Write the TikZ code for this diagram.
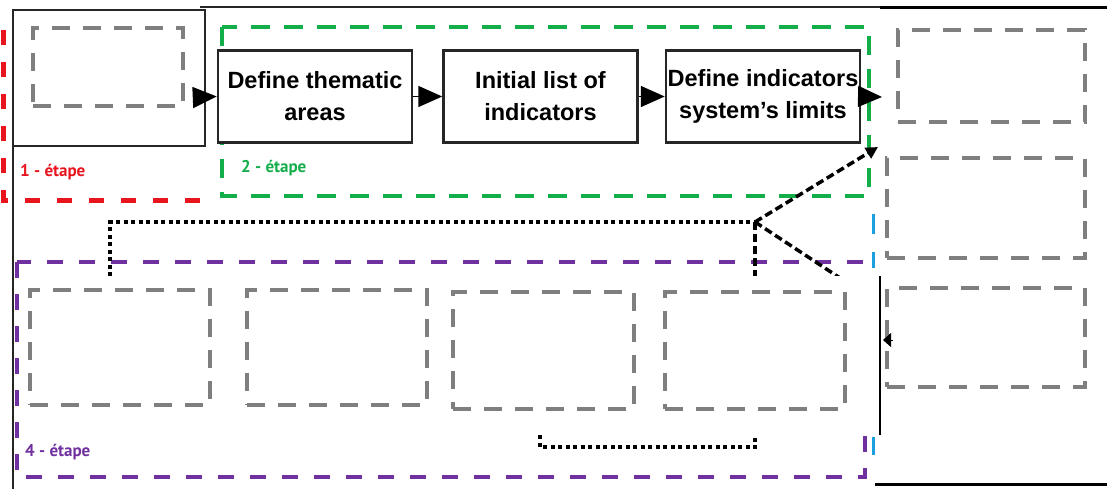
\documentclass[tikz,border=0pt]{standalone}
\usepackage{fontspec}
\setmainfont{Liberation Sans}
\newfontfamily\etapefont{PT Sans}
\usetikzlibrary{arrows.meta}
\definecolor{grayd}{HTML}{7F7F7F}
\definecolor{redd}{HTML}{E8141E}
\definecolor{greend}{HTML}{12AE4A}
\definecolor{purpled}{HTML}{7030A0}
\definecolor{blued}{HTML}{1AA0E0}
\begin{document}
\begin{tikzpicture}[x=1pt,y=-1pt,
  gbox/.style={draw=grayd, line width=4pt, dash pattern=on 18pt off 13pt, line cap=butt},
  proc/.style={draw=black!85, line width=2.5pt, fill=white, minimum width=194pt, minimum height=92pt,
     align=center, inner sep=0pt, font=\fontsize{23.5}{32}\selectfont\bfseries},
  tri/.style={-{Triangle[length=24pt,width=21pt]}, line width=1.5pt},
  dotl/.style={line width=3.5pt, dash pattern=on 4pt off 3.5pt, black},
  dashl/.style={line width=3.5pt, dash pattern=on 8pt off 4pt, black},
  lab/.style={font=\etapefont\fontsize{17}{17}\selectfont\bfseries, anchor=west, inner sep=0pt}]
\useasboundingbox (0,0) rectangle (1107,489);
\fill[white] (0,0) rectangle (1107,489);

% step 1 (red) frame and hidden box
\draw[redd, line width=5pt, dash pattern=on 15pt off 17pt] (3,30) -- (3,200) -- (210,200);
\draw[black!85, line width=2.5pt] (13,489) -- (13,10) -- (205,10) -- (205,146) -- (13,146);
\node[gbox, minimum width=150pt, minimum height=78pt, inner sep=0pt] (g1) at (108,67) {};
\node[lab, text=redd] (l1) at (20,172) {1 - étape};

% white panel of step 2
\fill[white] (207,12) rectangle (880,205);
\draw[black!85, line width=2pt] (200,7) -- (880,7);
\draw[black, line width=3pt] (880,8) -- (1107,8);

% step 2 (green)
\draw[greend, line width=4pt, dash pattern=on 19pt off 14pt] (222,27) rectangle (869,196);
\node[proc] (p1) at (315,96.5) {Define thematic\\areas};
\node[proc] (p2) at (540.5,96.5) {Initial list of\\indicators};
\node[proc] (p3) at (763,96.5) {Define indicators\\system’s limits};
\node[lab, text=greend] (l2) at (241,168) {2 - étape};
\coordinate (a0) at (205,97);
\coordinate (a4) at (882,97);
\draw[tri] (a0) -- (p1.west);
\draw[tri] (p1.east) -- (p2.west);
\draw[tri] (p2.east) -- (p3.west);
\draw[tri] (p3.east) -- (a4);

% right column
\node[gbox, minimum width=187pt, minimum height=92pt, inner sep=0pt] (r1) at (991.5,76) {};
\node[gbox, minimum width=198pt, minimum height=100pt, inner sep=0pt] (r2) at (986,208) {};
\node[gbox, minimum width=198pt, minimum height=99pt, inner sep=0pt] (r3) at (986,337.5) {};

% step 4 (purple)
\draw[purpled, line width=4pt, dash pattern=on 16pt off 16pt] (17,262) rectangle (865,477);

% dotted connectors
\coordinate (d0) at (755,222);
\coordinate (d1) at (110,222);
\coordinate (d2) at (110,276);
\coordinate (d3) at (755,276);
\coordinate (d4) at (878,147);
\coordinate (d5) at (840,278);
\draw[dotl] (d2) -- (d1) -- (d0);
\draw[dashl] (d0) -- (d3);
\draw[dashl, -{Triangle[length=12pt,width=12pt]}] (d0) -- (d4);
\draw[dashl] (d0) -- (d5);

% white panel of step 4 boxes
\fill[white] (19,276) rectangle (880,433);
\draw[black, line width=2pt] (880,276) -- (880,435);
\node[gbox, minimum width=180pt, minimum height=115pt, inner sep=0pt] (b1) at (120,347.5) {};
\node[gbox, minimum width=180pt, minimum height=115pt, inner sep=0pt] (b2) at (337,347.5) {};
\node[gbox, minimum width=181pt, minimum height=117pt, inner sep=0pt] (b3) at (543.5,350.5) {};
\node[gbox, minimum width=180pt, minimum height=117pt, inner sep=0pt] (b4) at (755,350.5) {};
\coordinate (e1) at (540,435);
\coordinate (e2) at (540,447);
\coordinate (e3) at (755,447);
\coordinate (e4) at (755,435);
\draw[dotl] (e1) -- (e2) -- (e3) -- (e4);
\node[lab, text=purpled] (l4) at (25,452) {4 - étape};

% small fragments
\draw[black, -{Triangle[length=8pt,width=14pt]}, line width=1pt] (893,340) -- (883,340);
\draw[blued, line width=3pt] (873,214) -- (873,234) (873,252) -- (873,268) (873,437) -- (873,455);
\draw[black, line width=3pt] (875,484) -- (1107,484);
\end{tikzpicture}
\end{document}
